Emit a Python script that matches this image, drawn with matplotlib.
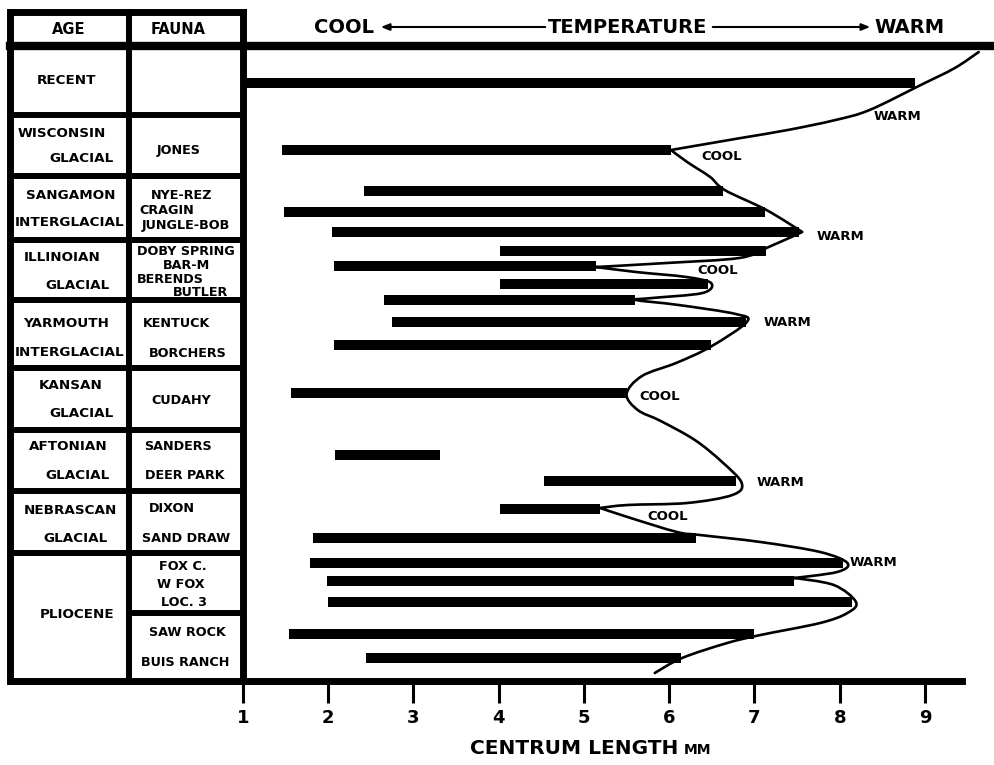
import numpy as np
import matplotlib.pyplot as plt
from matplotlib.path import Path
from matplotlib.patches import PathPatch

W, H = 995, 765

# centrum length range (mm) of each fauna, top (youngest) to bottom
fauna = ["RECENT", "JONES", "NYE-REZ", "CRAGIN", "JUNGLE-BOB", "DOBY SPRING",
         "BAR-M", "BERENDS", "BUTLER", "KENTUCK", "BORCHERS", "CUDAHY",
         "SANDERS", "DEER PARK", "DIXON", "SAND DRAW", "FOX C.", "W FOX",
         "LOC. 3", "SAW ROCK", "BUIS RANCH"]
len_min = [1.00, 1.46, 2.42, 1.48, 2.04, 4.01, 2.07, 4.01, 2.65, 2.75, 2.07,
           1.56, 2.08, 4.53, 4.01, 1.82, 1.79, 1.99, 2.00, 1.54, 2.44]
len_max = [8.88, 6.02, 6.63, 7.12, 7.52, 7.13, 5.14, 6.45, 5.60, 6.90, 6.49,
           5.50, 3.31, 6.78, 5.19, 6.31, 8.04, 7.46, 8.14, 6.99, 6.14]

# temperature curve, traced along the right ends of the bars
curve_x = [9.63, 9.35, 8.95, 8.35, 7.95, 7.39, 6.84, 6.02, 6.21, 6.48, 6.65,
           7.14, 7.56, 7.14, 6.82, 5.97, 5.14, 5.61, 6.20, 6.49, 6.39, 5.80,
           5.61, 6.11, 6.78, 6.91, 6.48, 6.08, 5.68, 5.50, 5.63, 5.90, 6.30,
           6.62, 6.85, 6.74, 6.21, 5.51, 5.19, 5.51, 6.09, 6.36, 7.07, 7.77,
           8.09, 7.97, 7.46, 7.93, 8.19, 8.09, 7.77, 7.07, 6.68, 6.15, 5.83]
curve_y = [52, 68, 85, 110, 120, 130, 138, 150, 162, 177, 190,
           210, 232, 248, 258, 263, 267, 272, 277, 283, 293, 298,
           300, 305, 314, 322, 347, 363, 376, 394, 410, 421, 440,
           462, 483, 495, 503, 505, 508, 517, 532, 535, 542, 552,
           563, 572, 578, 585, 602, 613, 623, 635, 643, 658, 673]
curve_corners = [7, 12, 16, 38, 46]

# vertical slot of each fauna bar
bar_y = [83, 150, 191, 212, 232, 251, 266, 284, 300, 322, 345, 393,
         455, 481, 509, 538, 563, 581, 602, 634, 658]

temp_labels = ["WARM", "COOL", "WARM", "COOL", "WARM", "COOL", "WARM", "COOL", "WARM"]
label_x = [8.40, 6.38, 7.73, 6.33, 7.11, 5.65, 7.03, 5.74, 8.11]
label_y = [117, 156, 236, 271, 323, 396, 483, 516, 563]

ticks = [1, 2, 3, 4, 5, 6, 7, 8, 9]

# stratigraphic table: age names and fauna names (text, x, y in pixels)
age_text = [("RECENT", 66, 80), ("WISCONSIN", 62, 133), ("GLACIAL", 82, 158),
            ("SANGAMON", 71, 195), ("INTERGLACIAL", 70, 222),
            ("ILLINOIAN", 62, 257), ("GLACIAL", 77, 285),
            ("YARMOUTH", 66, 323), ("INTERGLACIAL", 70, 352),
            ("KANSAN", 71, 385), ("GLACIAL", 81, 413),
            ("AFTONIAN", 68, 446), ("GLACIAL", 77, 475),
            ("NEBRASCAN", 70, 510), ("GLACIAL", 76, 539),
            ("PLIOCENE", 77, 614)]
fauna_text = [("JONES", 179, 150), ("NYE-REZ", 182, 195), ("CRAGIN", 167, 210),
              ("JUNGLE-BOB", 186, 225), ("DOBY SPRING", 186, 251),
              ("BAR-M", 187, 265), ("BERENDS", 170, 279), ("BUTLER", 200, 292),
              ("KENTUCK", 177, 323), ("BORCHERS", 188, 353), ("CUDAHY", 181, 400),
              ("SANDERS", 178, 446), ("DEER PARK", 185, 475), ("DIXON", 172, 509),
              ("SAND DRAW", 186, 539), ("FOX C.", 183, 567), ("W FOX", 181, 584),
              ("LOC. 3", 184, 602), ("SAW ROCK", 187, 632), ("BUIS RANCH", 185, 663)]
row_lines = [115, 176, 240, 300, 368, 430, 491, 553]

FONT = dict(family="DejaVu Sans", weight="bold")


def smooth_path(xs, ys, corners):
    # cubic bezier through the traced points, sharp at the corners
    p = np.column_stack([xs, ys]).astype(float)
    n = len(p)
    tan = np.zeros_like(p)
    for i in range(n):
        if i in corners:
            continue
        tan[i] = (p[min(i + 1, n - 1)] - p[max(i - 1, 0)]) / 2
    verts = [p[0]]
    codes = [Path.MOVETO]
    for i in range(n - 1):
        verts += [p[i] + tan[i] / 3, p[i + 1] - tan[i + 1] / 3, p[i + 1]]
        codes += [Path.CURVE4] * 3
    return Path(verts, codes)


fig = plt.figure(figsize=(W / 100, H / 100), dpi=100)
fig.patch.set_facecolor("white")

# chart axes: x in mm, y in the same pixel rows as the table
x0, x1, y0, y1 = 243, 990, 47, 681
ax = fig.add_axes([x0 / W, (H - y1) / H, (x1 - x0) / W, (y1 - y0) / H])
px_per_mm = 85.25
ax.set_xlim(1, 1 + (x1 - x0) / px_per_mm)
ax.set_ylim(y1, y0)
ax.patch.set_visible(False)
for s in ax.spines.values():
    s.set_visible(False)

widths = [b - a for a, b in zip(len_min, len_max)]
ax.barh(bar_y, widths, left=len_min, height=9.5, color="black")
ax.add_patch(PathPatch(smooth_path(curve_x, curve_y, curve_corners),
                       facecolor="none", edgecolor="black", lw=1.9,
                       joinstyle="round", capstyle="round"))
for t, x, y in zip(temp_labels, label_x, label_y):
    ax.text(x, y, t, ha="left", va="center", fontsize=9.5, **FONT)

ax.set_xticks(ticks)
ax.set_xticklabels([str(t) for t in ticks], **FONT)
ax.tick_params(axis="x", length=16, width=2.2, pad=4, labelsize=13)
ax.set_yticks([])

# overlay in pixel coordinates for the table and frame
ov = fig.add_axes([0, 0, 1, 1])
ov.set_xlim(0, W)
ov.set_ylim(H, 0)
ov.axis("off")

k = dict(color="black", solid_capstyle="projecting")
ov.plot([10, 10], [12, 681], lw=5, **k)
ov.plot([10, 243], [12, 12], lw=5, **k)
ov.plot([243, 243], [12, 681], lw=5, **k)
ov.plot([129, 129], [12, 681], lw=4.3, **k)
ov.plot([10, 990], [46, 46], lw=6, **k)
ov.plot([10, 962], [681, 681], lw=5, **k)
for y in row_lines:
    ov.plot([10, 243], [y, y], lw=4.3, **k)
ov.plot([129, 243], [613, 613], lw=4.3, **k)

ov.text(69, 29, "AGE", ha="center", va="center", fontsize=10.5, **FONT)
ov.text(178, 29, "FAUNA", ha="center", va="center", fontsize=10.5, **FONT)
for t, x, y in age_text:
    ov.text(x, y, t, ha="center", va="center", fontsize=9.7, **FONT)
for t, x, y in fauna_text:
    ov.text(x, y, t, ha="center", va="center", fontsize=9.2, **FONT)

# temperature header
ov.text(344, 27, "COOL", ha="center", va="center", fontsize=14, **FONT)
ov.text(628, 27, "TEMPERATURE", ha="center", va="center", fontsize=14, **FONT)
ov.text(909, 27, "WARM", ha="center", va="center", fontsize=14, **FONT)
arrow = dict(arrowstyle="-|>,head_length=0.5,head_width=0.2", color="black", lw=1.5)
ov.annotate("", xy=(378, 27), xytext=(548, 27), arrowprops=arrow)
ov.annotate("", xy=(873, 27), xytext=(710, 27), arrowprops=arrow)

ov.text(574, 748, "CENTRUM LENGTH", ha="center", va="center", fontsize=14.5, **FONT)
ov.text(684, 750, "MM", ha="left", va="center", fontsize=10, **FONT)

fig.savefig("out.png", dpi=100, facecolor="white")
